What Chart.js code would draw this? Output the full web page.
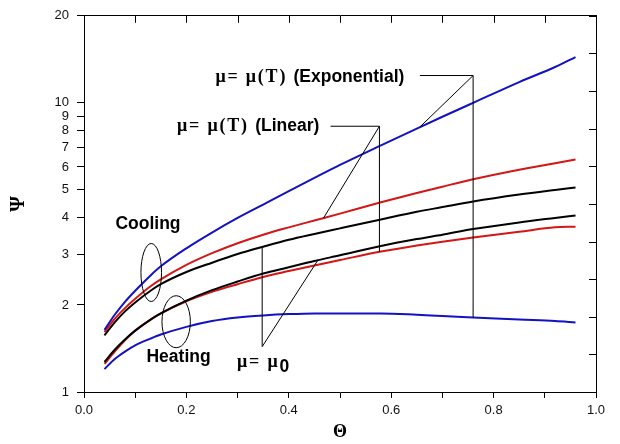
<!DOCTYPE html>
<html>
<head>
<meta charset="utf-8">
<script src="https://cdn.jsdelivr.net/npm/chart.js@4.4.1/dist/chart.umd.min.js"></script>
<style>
  html, body { margin: 0; padding: 0; background: #fff; }
  #wrap { width: 620px; height: 444px; }
</style>
</head>
<body>
<div id="wrap"><canvas id="chart"></canvas></div>
<script>
/* =========================
   DATA
========================= */

const theta = [0.04, 0.06, 0.08, 0.1, 0.13, 0.15, 0.2, 0.25, 0.3, 0.35, 0.4, 0.45, 0.5, 0.58, 0.65, 0.7, 0.76, 0.85, 0.92, 0.96];

// cooling curves
const expCooling = [1.64, 1.85, 2.05, 2.24, 2.53, 2.72, 3.14, 3.56, 4.0, 4.45, 4.95, 5.5, 6.1, 7.13, 8.15, 8.95, 10.0, 11.8, 13.3, 14.4];
const linCooling = [1.61, 1.79, 1.95, 2.1, 2.32, 2.45, 2.75, 3.02, 3.27, 3.5, 3.71, 3.92, 4.14, 4.53, 4.88, 5.13, 5.44, 5.87, 6.18, 6.37];
const constCooling = [1.57, 1.74, 1.9, 2.04, 2.24, 2.36, 2.6, 2.8, 3.0, 3.18, 3.36, 3.52, 3.68, 3.95, 4.2, 4.36, 4.56, 4.82, 5.0, 5.1];

// heating curves
const constHeating = [1.27, 1.4, 1.52, 1.63, 1.78, 1.87, 2.07, 2.25, 2.41, 2.57, 2.7, 2.84, 2.97, 3.2, 3.38, 3.5, 3.66, 3.86, 4.0, 4.08];
const linHeating = [1.25, 1.38, 1.51, 1.63, 1.78, 1.87, 2.06, 2.22, 2.36, 2.5, 2.62, 2.74, 2.86, 3.06, 3.21, 3.31, 3.42, 3.58, 3.71, 3.73];
const expHeating = [1.2, 1.3, 1.38, 1.45, 1.53, 1.58, 1.68, 1.76, 1.81, 1.84, 1.86, 1.87, 1.87, 1.87, 1.85, 1.83, 1.81, 1.78, 1.76, 1.74];

const xMajorTicks = [0, 0.2, 0.4, 0.6, 0.8, 1.0];
const xTickLabels = ["0.0", "0.2", "0.4", "0.6", "0.8", "1.0"];
const xMinorTicks = [0.1, 0.3, 0.5, 0.7, 0.9];
const yTicks = [1, 2, 3, 4, 5, 6, 7, 8, 9, 10, 20];

const BLUE = "#1212c4";
const RED = "#d41616";
const BLACK = "#000000";

function series(values) {
  return values.map((v, i) => ({ x: theta[i], y: v }));
}

function lineSet(label, values, color) {
  return {
    label: label,
    data: series(values),
    borderColor: color,
    borderWidth: 2,
    pointRadius: 0,
    fill: false,
    cubicInterpolationMode: "monotone",
  };
}

/* =========================
   ANNOTATIONS
========================= */

const SERIF = "bold 18px 'Liberation Serif'";
const SANS = "bold 17.5px 'Liberation Sans'";

const leaders = [
  // exponential
  [[0.656, 12.43], [0.76, 12.43]],
  [[0.76, 12.43], [0.656, 8.25]],
  [[0.76, 12.43], [0.76, 1.81]],
  // linear
  [[0.4815, 8.3], [0.577, 8.3]],
  [[0.577, 8.3], [0.468, 4.0]],
  [[0.577, 8.3], [0.577, 3.05]],
  // constant
  [[0.348, 1.435], [0.348, 3.17]],
  [[0.348, 1.435], [0.457, 2.86]],
];

// sp = extra spacing between characters (symbol font look)
const labelsText = [
  { at: [0.2567, 11.8], parts: [{ t: "\u03bc= \u03bc(T) ", f: SERIF, sp: 1.8 }, { t: "(Exponential)", f: SANS }] },
  { at: [0.1818, 7.97], parts: [{ t: "\u03bc= \u03bc(T) ", f: SERIF, sp: 1.8 }, { t: "(Linear)", f: SANS }] },
  { at: [0.299, 1.224], parts: [{ t: "\u03bc= \u03bc", f: SERIF, sp: 1.8 }, { t: "0", f: SANS, dy: 5 }] },
  { at: [0.0614, 3.66], parts: [{ t: "Cooling", f: SANS }] },
  { at: [0.122, 1.265], parts: [{ t: "Heating", f: SANS }] },
];

const ellipses = [
  { at: [0.1313, 2.59], rx: 10.3, ry: 29 },
  { at: [0.18, 1.75], rx: 14.2, ry: 26 },
];

const annotationPlugin = {
  id: "annotations",
  afterDatasetsDraw(chart) {
    const ctx = chart.ctx;
    const xs = chart.scales.x;
    const ys = chart.scales.y;
    const px = (p) => [xs.getPixelForValue(p[0]), ys.getPixelForValue(p[1])];

    ctx.save();
    ctx.strokeStyle = "#000";
    ctx.lineWidth = 1;

    leaders.forEach((seg) => {
      const a = px(seg[0]);
      const b = px(seg[1]);
      ctx.beginPath();
      ctx.moveTo(a[0], a[1]);
      ctx.lineTo(b[0], b[1]);
      ctx.stroke();
    });

    ellipses.forEach((e) => {
      const c = px(e.at);
      ctx.beginPath();
      ctx.ellipse(c[0], c[1], e.rx, e.ry, 0, 0, Math.PI * 2);
      ctx.stroke();
    });

    ctx.fillStyle = "#000";
    ctx.textBaseline = "alphabetic";
    ctx.textAlign = "left";
    labelsText.forEach((lbl) => {
      let [x, y] = px(lbl.at);
      lbl.parts.forEach((p) => {
        ctx.font = p.f;
        if (p.sp) {
          for (const ch of p.t) {
            ctx.fillText(ch, x, y + (p.dy || 0));
            x += ctx.measureText(ch).width + p.sp;
          }
        } else {
          ctx.fillText(p.t, x, y + (p.dy || 0));
          x += ctx.measureText(p.t).width;
        }
      });
    });

    ctx.restore();
  },
};

// inward ticks on the top and right frame
const frameTicksPlugin = {
  id: "frameTicks",
  afterDraw(chart) {
    const ctx = chart.ctx;
    const area = chart.chartArea;
    const x2 = chart.scales.x2;
    const y2 = chart.scales.y2;
    ctx.save();
    ctx.strokeStyle = "#000";
    ctx.lineWidth = 1;
    ctx.beginPath();
    xMajorTicks.concat(xMinorTicks).forEach((v) => {
      const p = Math.round(x2.getPixelForValue(v)) + 0.5;
      ctx.moveTo(p, area.top);
      ctx.lineTo(p, area.top + 7);
    });
    for (let i = 0; i <= 10; i++) {
      const p = Math.round(y2.getPixelForValue(i)) + 0.5;
      ctx.moveTo(area.right, p);
      ctx.lineTo(area.right - 7, p);
    }
    ctx.stroke();
    ctx.restore();
  },
};

/* =========================
   CHART
========================= */

const tickFont = { family: "'Liberation Sans'", size: 13 };

const chart = new Chart(document.getElementById("chart"), {
  type: "line",
  data: {
    datasets: [
      lineSet("Exponential cooling", expCooling, BLUE),
      lineSet("Linear cooling", linCooling, RED),
      lineSet("Constant cooling", constCooling, BLACK),
      lineSet("Constant heating", constHeating, BLACK),
      lineSet("Linear heating", linHeating, RED),
      lineSet("Exponential heating", expHeating, BLUE),
    ],
  },
  options: {
    responsive: true,
    maintainAspectRatio: false,
    animation: false,
    layout: { padding: 0 },
    plugins: {
      legend: { display: false },
      tooltip: { enabled: false },
    },
    scales: {
      x: {
        type: "linear",
        position: "bottom",
        min: 0,
        max: 1,
        afterBuildTicks: (axis) => {
          axis.ticks = xMajorTicks.concat(xMinorTicks).sort((a, b) => a - b).map((v) => ({ value: v }));
        },
        afterFit: (axis) => { axis.height = 52; },
        ticks: {
          color: "#111",
          font: tickFont,
          padding: 5,
          maxRotation: 0,
          autoSkip: false,
          callback: (v) => {
            const i = xMajorTicks.findIndex((m) => Math.abs(m - v) < 1e-6);
            return i >= 0 ? xTickLabels[i] : "";
          },
        },
        grid: { drawOnChartArea: false, drawTicks: true, tickLength: 6, color: "#000" },
        border: { display: true, color: "#000", width: 1 },
        title: {
          display: true,
          text: "\u0398",
          color: "#000",
          font: { family: "'Liberation Serif'", size: 18, weight: "bold" },
          padding: { top: 0, bottom: 1 },
        },
      },
      x2: {
        type: "linear",
        position: "top",
        min: 0,
        max: 1,
        afterFit: (axis) => { axis.height = 15; },
        ticks: { display: false },
        grid: { drawOnChartArea: false, drawTicks: false },
        border: { display: true, color: "#000", width: 1 },
      },
      y: {
        type: "logarithmic",
        position: "left",
        min: 1,
        max: 20,
        afterBuildTicks: (axis) => {
          axis.ticks = yTicks.map((v) => ({ value: v }));
        },
        afterFit: (axis) => { axis.width = 84; },
        ticks: {
          color: "#111",
          font: tickFont,
          padding: 8,
          autoSkip: false,
          callback: (v) => String(v),
        },
        grid: { drawOnChartArea: false, drawTicks: true, tickLength: 7, color: "#000" },
        border: { display: true, color: "#000", width: 1 },
        title: {
          display: true,
          text: "\u03a8",
          color: "#000",
          font: { family: "'Liberation Serif'", size: 20, weight: "bold" },
          padding: { top: 7, bottom: 0 },
        },
      },
      y2: {
        type: "linear",
        position: "right",
        min: 0,
        max: 10,
        afterFit: (axis) => { axis.width = 24; },
        ticks: { display: false },
        grid: { drawOnChartArea: false, drawTicks: false },
        border: { display: true, color: "#000", width: 1 },
      },
    },
  },
  plugins: [annotationPlugin, frameTicksPlugin],
});
</script>
</body>
</html>
